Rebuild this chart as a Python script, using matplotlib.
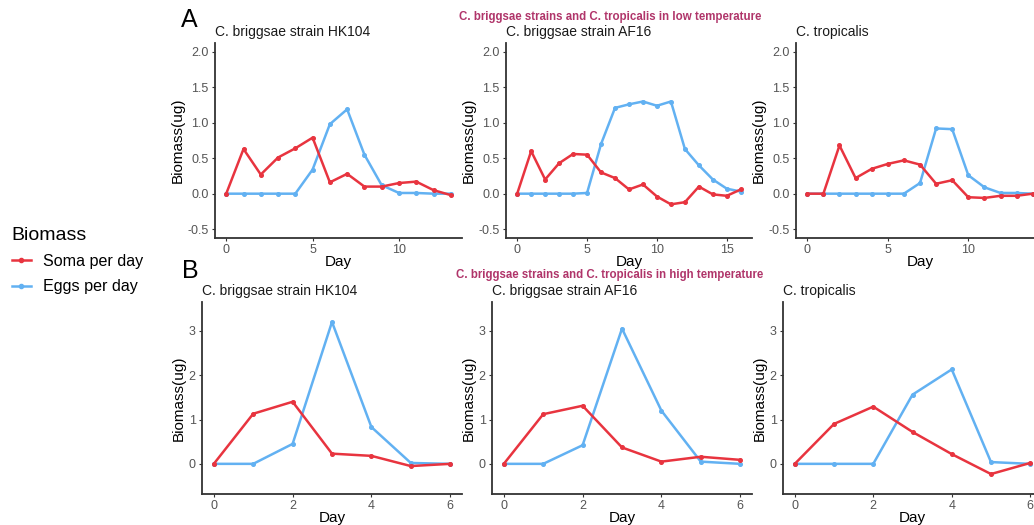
import matplotlib
matplotlib.use("Agg")
import matplotlib.pyplot as plt
from matplotlib.lines import Line2D

plt.rcParams["font.family"] = ["Liberation Sans", "DejaVu Sans"]

# ---- data ----
titles = ["C. briggsae strain HK104", "C. briggsae strain AF16", "C. tropicalis"]

low_days = [list(range(14)), list(range(17)), list(range(15))]
low_soma = [
    [0, 0.63, 0.27, 0.51, 0.64, 0.79, 0.16, 0.28, 0.10, 0.10, 0.15, 0.17, 0.05, -0.02],
    [0, 0.60, 0.20, 0.43, 0.56, 0.55, 0.30, 0.22, 0.06, 0.13, -0.04, -0.15, -0.12,
     0.10, -0.01, -0.03, 0.06],
    [0, 0, 0.68, 0.22, 0.35, 0.42, 0.47, 0.41, 0.14, 0.19, -0.05, -0.06, -0.03, -0.03, 0.0],
]
low_eggs = [
    [0, 0, 0, 0, 0, 0.34, 0.98, 1.19, 0.55, 0.12, 0.01, 0.01, 0.0, 0.0],
    [0, 0, 0, 0, 0, 0.01, 0.70, 1.21, 1.26, 1.30, 1.24, 1.30, 0.63, 0.40, 0.20, 0.07, 0.03],
    [0, 0, 0, 0, 0, 0, 0, 0.15, 0.92, 0.91, 0.26, 0.09, 0.01, 0.01, 0.0],
]

high_days = [list(range(7))] * 3
high_soma = [
    [0, 1.13, 1.40, 0.23, 0.18, -0.05, 0.0],
    [0, 1.12, 1.31, 0.37, 0.05, 0.16, 0.09],
    [0, 0.90, 1.29, 0.72, 0.22, -0.23, 0.02],
]
high_eggs = [
    [0, 0, 0.45, 3.20, 0.83, 0.02, 0.0],
    [0, 0, 0.42, 3.05, 1.20, 0.05, 0.0],
    [0, 0, 0, 1.56, 2.13, 0.04, 0.0],
]

SOMA = "#E8343F"
EGGS = "#62B1F2"
TITLE_COL = "#B0356A"
W, H = 1034, 525

fig = plt.figure(figsize=(W / 100, H / 100), dpi=100)


def px_axes(x0, x1, ytop, ybot):
    return fig.add_axes([x0 / W, 1 - ybot / H, (x1 - x0) / W, (ybot - ytop) / H])


def draw_panel(ax, days, soma, eggs, title, ylim, yticks, yfmt):
    ax.plot(days, eggs, color=EGGS, lw=1.8, marker="o", ms=2.6, zorder=3)
    ax.plot(days, soma, color=SOMA, lw=1.8, marker="o", ms=2.6, zorder=4)
    rng = days[-1] - days[0]
    ax.set_xlim(days[0] - 0.05 * rng, days[-1] + 0.05 * rng)
    ax.set_ylim(*ylim)
    ax.set_yticks(yticks)
    ax.set_yticklabels([yfmt.format(t) for t in yticks])
    for s in ("top", "right"):
        ax.spines[s].set_visible(False)
    for s in ("left", "bottom"):
        ax.spines[s].set_color("#333333")
        ax.spines[s].set_linewidth(1.3)
    ax.tick_params(colors="#333333", labelcolor="#555555", labelsize=9,
                   length=2.5, width=0.8, pad=2)
    ax.set_xlabel("Day", fontsize=11, labelpad=-1)
    ax.set_ylabel("Biomass(ug)", fontsize=11, labelpad=2)
    ax.set_title(title, loc="left", fontsize=10, pad=5, color="#1a1a1a")


# top row (low temperature)
top_pos = [(215, 462), (506, 752), (796, 1044)]
for i in range(3):
    ax = px_axes(top_pos[i][0], top_pos[i][1], 43, 238)
    draw_panel(ax, low_days[i], low_soma[i], low_eggs[i], titles[i],
               (-0.625, 2.125), [-0.5, 0.0, 0.5, 1.0, 1.5, 2.0], "{:.1f}")
    if i == 1:
        ax.set_xticks([0, 5, 10, 15])
    else:
        ax.set_xticks([0, 5, 10])

# bottom row (high temperature)
bot_pos = [(202, 462), (492, 752), (783, 1042)]
for i in range(3):
    ax = px_axes(bot_pos[i][0], bot_pos[i][1], 302, 494)
    draw_panel(ax, high_days[i], high_soma[i], high_eggs[i], titles[i],
               (-0.68, 3.65), [0, 1, 2, 3], "{:d}")
    ax.set_xticks([0, 2, 4, 6])

fig.text(181 / W, 1 - 20 / H, "A", fontsize=18, va="center", ha="left")
fig.text(182 / W, 1 - 271 / H, "B", fontsize=18, va="center", ha="left")
fig.text(610 / W, 1 - 17 / H, "C. briggsae strains and C. tropicalis in low temperature",
         fontsize=8.3, fontweight="bold", color=TITLE_COL, ha="center", va="center")
fig.text(610 / W, 1 - 275 / H, "C. briggsae strains and C. tropicalis in high temperature",
         fontsize=8.3, fontweight="bold", color=TITLE_COL, ha="center", va="center")

handles = [
    Line2D([], [], color=SOMA, lw=1.8, marker="o", ms=3, label="Soma per day"),
    Line2D([], [], color=EGGS, lw=1.8, marker="o", ms=3, label="Eggs per day"),
]
fig.legend(handles=handles, title="Biomass", loc="upper left",
           bbox_to_anchor=(-3 / W, 1 - 212 / H), frameon=False, fontsize=11.6,
           title_fontsize=14, handlelength=1.2, handletextpad=0.75,
           labelspacing=0.65, alignment="left")

fig.savefig("out.png", dpi=100)
